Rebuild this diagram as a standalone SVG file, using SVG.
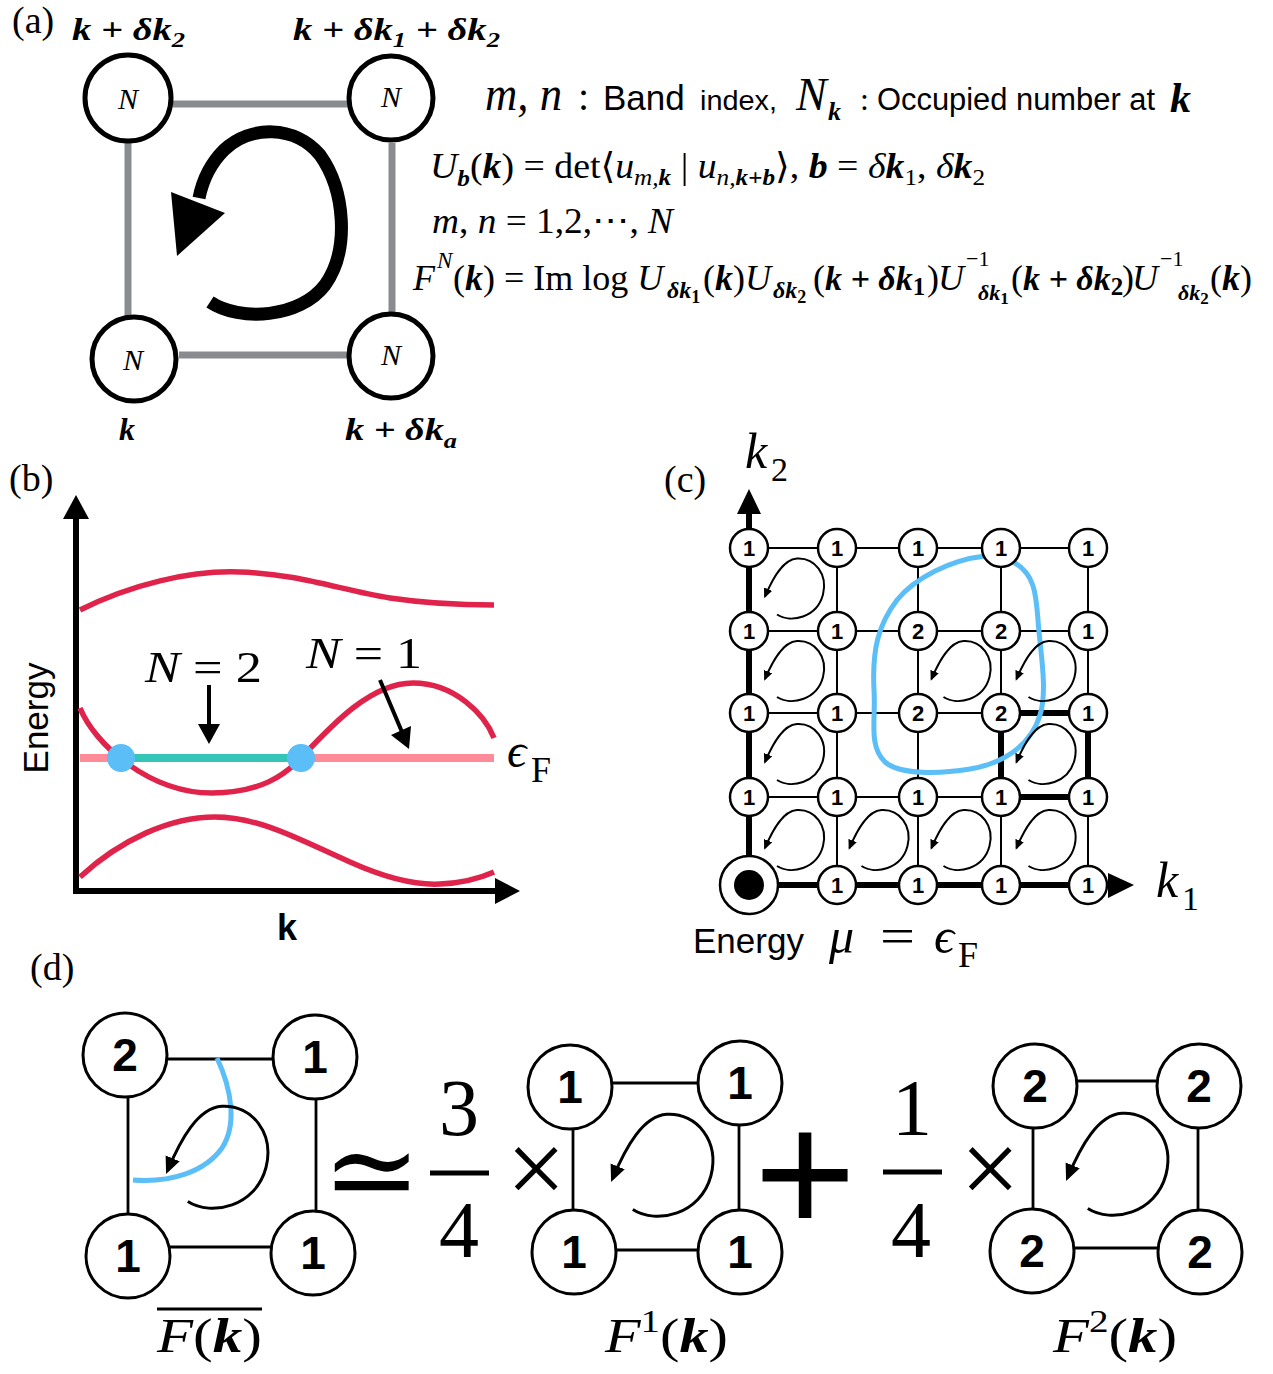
<svg xmlns="http://www.w3.org/2000/svg" xmlns:xlink="http://www.w3.org/1999/xlink" width="1273" height="1374" viewBox="0 0 1273 1374">
<style>
.serif{font-family:"Liberation Serif","DejaVu Serif",serif}
.sans{font-family:"Liberation Sans","DejaVu Sans",sans-serif}
.it{font-style:italic}
.bi{font-weight:bold;font-style:italic}
.b{font-weight:bold}
.nodeA{fill:#fff;stroke:#000;stroke-width:5}
.nodeC{fill:#fff;stroke:#000;stroke-width:2.5}
.nodeD{fill:#fff;stroke:#000;stroke-width:3}
.gray{stroke:#898b8e;stroke-width:7;fill:none}
.thin{stroke:#000;stroke-width:2;fill:none}
.thick{stroke:#000;stroke-width:6;fill:none}
.red{stroke:#e0234b;stroke-width:5.5;fill:none}
.numC{font-family:"Liberation Sans",sans-serif;font-weight:bold;font-size:22px;text-anchor:middle}
.numD{font-family:"Liberation Sans",sans-serif;font-weight:bold;font-size:46px;text-anchor:middle}
.lineD{stroke:#000;stroke-width:2.8;fill:none}
</style>
<defs>
<marker id="ah" viewBox="0 0 10 10" refX="8" refY="5" markerWidth="10" markerHeight="10" markerUnits="userSpaceOnUse" orient="auto">
<path d="M0,0.5 L10,5 L0,9.5 z" fill="#000"/>
</marker>
<path id="curl" d="M -16,25 C -2,34 24,28 30,5 C 35,-15 22,-32 4,-31 C -10,-30 -20,-12 -28,7" fill="none" stroke="#000" marker-end="url(#ah)"/>
</defs>

<!-- ============ Panel (a) ============ -->
<text class="serif" x="12" y="33" font-size="38">(a)</text>
<g id="a-edges">
<line class="gray" x1="173" y1="104" x2="347" y2="104"/>
<line class="gray" x1="128" y1="143" x2="128" y2="316"/>
<line class="gray" x1="392" y1="143" x2="392" y2="312"/>
<line class="gray" x1="179" y1="355" x2="347" y2="355"/>
</g>
<g id="a-loop">
<path d="M 210,302 C 240,322 300,318 325,285 C 350,250 345,190 320,155 C 295,125 250,125 224,150 C 212,162 203,178 199,198" fill="none" stroke="#000" stroke-width="13"/>
<polygon points="171,192 225,213 177,256" fill="#000"/>
</g>
<g id="a-node-tl"><circle class="nodeA" cx="128" cy="98" r="43"/><text class="serif it" x="128" y="109" font-size="30" text-anchor="middle">N</text></g>
<g id="a-node-tr"><circle class="nodeA" cx="391" cy="98" r="42"/><text class="serif it" x="391" y="107" font-size="30" text-anchor="middle">N</text></g>
<g id="a-node-bl"><circle class="nodeA" cx="134" cy="359" r="42"/><text class="serif it" x="133" y="370" font-size="30" text-anchor="middle">N</text></g>
<g id="a-node-br"><circle class="nodeA" cx="391" cy="356" r="42"/><text class="serif it" x="391" y="365" font-size="30" text-anchor="middle">N</text></g>
<text class="serif bi" x="72" y="40" font-size="32" textLength="113" lengthAdjust="spacingAndGlyphs">k + δk<tspan dy="7" font-size="22">2</tspan></text>
<text class="serif bi" x="293" y="40" font-size="32" textLength="207" lengthAdjust="spacingAndGlyphs">k + δk<tspan dy="7" font-size="22">1</tspan><tspan dy="-7"> + δk</tspan><tspan dy="7" font-size="22">2</tspan></text>
<text class="serif bi" x="119" y="440" font-size="32">k</text>
<text class="serif bi" x="345" y="440" font-size="32" textLength="112" lengthAdjust="spacingAndGlyphs">k + δk<tspan dy="8" font-size="22">a</tspan></text>

<!-- formulas -->
<g id="formulas">
<text class="serif it" x="485" y="110" font-size="48" textLength="77" lengthAdjust="spacingAndGlyphs">m, n</text>
<text class="serif" x="578" y="110" font-size="40">:</text>
<text class="sans" x="603" y="110" font-size="35">Band</text>
<text class="sans" x="700" y="110" font-size="27" textLength="77" lengthAdjust="spacingAndGlyphs">index,</text>
<text class="serif it" x="796" y="110" font-size="46">N</text>
<text class="serif bi" x="828" y="120" font-size="26">k</text>
<text class="serif" x="860" y="110" font-size="32">:</text>
<text class="sans" x="877" y="110" font-size="31" textLength="278" lengthAdjust="spacingAndGlyphs">Occupied number at</text>
<text class="serif bi" x="1170" y="112" font-size="42">k</text>

<text class="serif" x="430" y="178" font-size="36" textLength="555" lengthAdjust="spacingAndGlyphs"><tspan class="it">U</tspan><tspan class="bi" font-size="24" dy="8">b</tspan><tspan dy="-8">(</tspan><tspan class="bi">k</tspan>) = det⟨<tspan class="it">u</tspan><tspan class="it" font-size="24" dy="7">m,</tspan><tspan class="bi" font-size="24">k</tspan><tspan dy="-7"> | </tspan><tspan class="it">u</tspan><tspan class="it" font-size="24" dy="7">n,</tspan><tspan class="bi" font-size="24">k+b</tspan><tspan dy="-7">⟩, </tspan><tspan class="bi">b</tspan> = <tspan class="it">δ</tspan><tspan class="bi">k</tspan><tspan font-size="24" dy="7">1</tspan><tspan dy="-7">, </tspan><tspan class="it">δ</tspan><tspan class="bi">k</tspan><tspan font-size="24" dy="7">2</tspan></text>

<text class="serif" x="432" y="233" font-size="36" textLength="241" lengthAdjust="spacingAndGlyphs"><tspan class="it">m</tspan>, <tspan class="it">n</tspan> = 1,2,⋯, <tspan class="it">N</tspan></text>

<text class="serif" font-size="36"><tspan class="it" x="413" y="290">F</tspan><tspan class="it" x="437" y="268" font-size="23">N</tspan><tspan x="453" y="290">(</tspan><tspan class="bi">k</tspan><tspan>) = Im log </tspan><tspan class="it">U</tspan><tspan class="bi" x="667" y="298" font-size="24">δk</tspan><tspan class="b" y="303" font-size="18">1</tspan><tspan x="703" y="290">(</tspan><tspan class="bi">k</tspan><tspan>)</tspan><tspan class="it">U</tspan><tspan class="bi" x="773" y="298" font-size="24">δk</tspan><tspan class="b" y="303" font-size="18">2</tspan><tspan x="813" y="290">(</tspan><tspan class="bi" font-size="34">k + δk</tspan><tspan class="b" y="295" font-size="25">1</tspan><tspan x="927" y="290">)</tspan><tspan class="it" x="938">U</tspan><tspan x="966" y="266" font-size="22">−1</tspan><tspan class="bi" x="978" y="300" font-size="22">δk</tspan><tspan class="b" y="304" font-size="17">1</tspan><tspan x="1011" y="290">(</tspan><tspan class="bi" font-size="34">k + δk</tspan><tspan class="b" y="295" font-size="25">2</tspan><tspan x="1122" y="290">)</tspan><tspan class="it" x="1132">U</tspan><tspan x="1160" y="266" font-size="22">−1</tspan><tspan class="bi" x="1178" y="300" font-size="22">δk</tspan><tspan class="b" y="304" font-size="17">2</tspan><tspan x="1210" y="290">(</tspan><tspan class="bi">k</tspan><tspan>)</tspan></text>
</g>

<!-- ============ Panel (b) ============ -->
<text class="serif" x="9" y="491" font-size="38">(b)</text>
<g id="b-axes">
<line x1="76" y1="894" x2="76" y2="515" stroke="#000" stroke-width="6"/>
<polygon points="76,495 63,519 89,519" fill="#000"/>
<line x1="73" y1="891" x2="498" y2="891" stroke="#000" stroke-width="6"/>
<polygon points="520,891 495,878 495,904" fill="#000"/>
</g>
<g id="b-bands">
<path class="red" d="M 80,610 C 130,585 190,570 240,572 C 300,574 340,590 390,598 C 430,604 460,605 494,605"/>
<line x1="80" y1="758" x2="494" y2="758" stroke="#ff8a98" stroke-width="8"/>
<path class="red" d="M 80,708 C 95,745 150,793 212,793 C 260,793 285,775 301,758 C 330,727 370,683 413,683 C 455,683 485,715 494,738"/>
<path class="red" d="M 80,877 C 120,840 170,817 215,817 C 260,817 300,840 350,862 C 390,880 420,885 440,884 C 465,883 485,876 494,872"/>
<line x1="122" y1="758" x2="301" y2="758" stroke="#35c5b7" stroke-width="8"/>
<circle cx="121" cy="758" r="14" fill="#5bbef7"/>
<circle cx="301" cy="758" r="14" fill="#5bbef7"/>
</g>
<g id="b-arrows">
<line x1="209" y1="685" x2="209" y2="726" stroke="#000" stroke-width="4"/>
<polygon points="198,724 220,724 209,744" fill="#000"/>
<line x1="380" y1="680" x2="402" y2="732" stroke="#000" stroke-width="4"/>
<polygon points="411,726 391,735 409,749" fill="#000"/>
</g>
<text class="serif" x="145" y="682" font-size="45" textLength="117" lengthAdjust="spacingAndGlyphs"><tspan class="it">N</tspan> = 2</text>
<text class="serif" x="306" y="668" font-size="45" textLength="116" lengthAdjust="spacingAndGlyphs"><tspan class="it">N</tspan> = 1</text>
<text class="serif it" x="507" y="767" font-size="48">ϵ</text>
<text class="serif" x="531" y="782" font-size="36">F</text>
<text class="sans" transform="translate(48,718) rotate(-90)" font-size="35" text-anchor="middle">Energy</text>
<text class="sans b" x="287" y="940" font-size="36" text-anchor="middle">k</text>

<!-- ============ Panel (c) ============ -->
<text class="serif" x="664" y="492" font-size="38">(c)</text>
<text class="serif it" x="745" y="468" font-size="50">k</text>
<text class="serif" x="771" y="481" font-size="34">2</text>
<text class="serif it" x="1156" y="897" font-size="50">k</text>
<text class="serif" x="1182" y="910" font-size="34">1</text>
<g id="c-grid">
<line class="thin" x1="749" y1="548" x2="1088" y2="548"/>
<line class="thin" x1="749" y1="631" x2="1088" y2="631"/>
<line class="thin" x1="749" y1="713" x2="1088" y2="713"/>
<line class="thin" x1="749" y1="797" x2="1088" y2="797"/>
<line class="thin" x1="837" y1="548" x2="837" y2="885"/>
<line class="thin" x1="918" y1="548" x2="918" y2="885"/>
<line class="thin" x1="1001" y1="548" x2="1001" y2="885"/>
<line class="thin" x1="1088" y1="548" x2="1088" y2="885"/>
<line class="thick" x1="749" y1="885" x2="749" y2="510"/>
<polygon points="749,489 737,514 761,514" fill="#000"/>
<line class="thick" x1="749" y1="885" x2="1110" y2="885"/>
<polygon points="1134,885 1108,873 1108,898" fill="#000"/>
<line class="thick" x1="1001" y1="713" x2="1088" y2="713"/>
<line class="thick" x1="1001" y1="797" x2="1088" y2="797"/>
<line class="thick" x1="1001" y1="713" x2="1001" y2="797"/>
<line class="thick" x1="1088" y1="713" x2="1088" y2="797"/>
</g>
<path id="c-fermi" d="M 985,556 C 950,560 915,578 897,600 C 878,625 872,650 874,690 C 876,720 868,745 885,762 C 900,775 940,774 970,769 C 1000,764 1030,748 1040,715 C 1048,690 1040,650 1038,620 C 1036,595 1035,575 1015,563 C 1005,557 995,556 985,556 Z" fill="none" stroke="#5bbef7" stroke-width="5"/>
<g id="c-curls" stroke-width="2">
<use xlink:href="#curl" x="793" y="589.5"/>
<use xlink:href="#curl" x="793" y="672"/>
<use xlink:href="#curl" x="959.5" y="672"/>
<use xlink:href="#curl" x="1044.5" y="672"/>
<use xlink:href="#curl" x="793" y="755"/>
<use xlink:href="#curl" x="1044.5" y="755"/>
<use xlink:href="#curl" x="793" y="841"/>
<use xlink:href="#curl" x="877.5" y="841"/>
<use xlink:href="#curl" x="959.5" y="841"/>
<use xlink:href="#curl" x="1044.5" y="841"/>
</g>
<g id="c-nodes">
<g id="c-n00"><circle class="nodeC" cx="749" cy="548" r="19"/><text class="numC" x="749" y="556">1</text></g>
<g id="c-n10"><circle class="nodeC" cx="837" cy="548" r="19"/><text class="numC" x="837" y="556">1</text></g>
<g id="c-n20"><circle class="nodeC" cx="918" cy="548" r="19"/><text class="numC" x="918" y="556">1</text></g>
<g id="c-n30"><circle class="nodeC" cx="1001" cy="548" r="19"/><text class="numC" x="1001" y="556">1</text></g>
<g id="c-n40"><circle class="nodeC" cx="1088" cy="548" r="19"/><text class="numC" x="1088" y="556">1</text></g>
<g id="c-n01"><circle class="nodeC" cx="749" cy="631" r="19"/><text class="numC" x="749" y="639">1</text></g>
<g id="c-n11"><circle class="nodeC" cx="837" cy="631" r="19"/><text class="numC" x="837" y="639">1</text></g>
<g id="c-n21"><circle class="nodeC" cx="918" cy="631" r="19"/><text class="numC" x="918" y="639">2</text></g>
<g id="c-n31"><circle class="nodeC" cx="1001" cy="631" r="19"/><text class="numC" x="1001" y="639">2</text></g>
<g id="c-n41"><circle class="nodeC" cx="1088" cy="631" r="19"/><text class="numC" x="1088" y="639">1</text></g>
<g id="c-n02"><circle class="nodeC" cx="749" cy="713" r="19"/><text class="numC" x="749" y="721">1</text></g>
<g id="c-n12"><circle class="nodeC" cx="837" cy="713" r="19"/><text class="numC" x="837" y="721">1</text></g>
<g id="c-n22"><circle class="nodeC" cx="918" cy="713" r="19"/><text class="numC" x="918" y="721">2</text></g>
<g id="c-n32"><circle class="nodeC" cx="1001" cy="713" r="19"/><text class="numC" x="1001" y="721">2</text></g>
<g id="c-n42"><circle class="nodeC" cx="1088" cy="713" r="19"/><text class="numC" x="1088" y="721">1</text></g>
<g id="c-n03"><circle class="nodeC" cx="749" cy="797" r="19"/><text class="numC" x="749" y="805">1</text></g>
<g id="c-n13"><circle class="nodeC" cx="837" cy="797" r="19"/><text class="numC" x="837" y="805">1</text></g>
<g id="c-n23"><circle class="nodeC" cx="918" cy="797" r="19"/><text class="numC" x="918" y="805">1</text></g>
<g id="c-n33"><circle class="nodeC" cx="1001" cy="797" r="19"/><text class="numC" x="1001" y="805">1</text></g>
<g id="c-n43"><circle class="nodeC" cx="1088" cy="797" r="19"/><text class="numC" x="1088" y="805">1</text></g>
<g id="c-origin"><circle class="nodeC" cx="749" cy="885" r="29"/><circle cx="749" cy="885" r="15" fill="#000"/></g>
<g id="c-n14"><circle class="nodeC" cx="837" cy="885" r="19"/><text class="numC" x="837" y="893">1</text></g>
<g id="c-n24"><circle class="nodeC" cx="918" cy="885" r="19"/><text class="numC" x="918" y="893">1</text></g>
<g id="c-n34"><circle class="nodeC" cx="1001" cy="885" r="19"/><text class="numC" x="1001" y="893">1</text></g>
<g id="c-n44"><circle class="nodeC" cx="1088" cy="885" r="19"/><text class="numC" x="1088" y="893">1</text></g>
</g>
<text class="sans" x="693" y="953" font-size="35">Energy</text>
<text class="serif it" x="829" y="953" font-size="50">μ</text>
<text class="serif" x="880" y="953" font-size="50" textLength="35" lengthAdjust="spacingAndGlyphs">=</text>
<text class="serif it" x="934" y="953" font-size="50">ϵ</text>
<text class="serif" x="958" y="967" font-size="36">F</text>

<!-- ============ Panel (d) ============ -->
<text class="serif" x="30" y="980" font-size="38">(d)</text>
<g id="d-left">
<line class="lineD" x1="167" y1="1059" x2="273" y2="1059"/>
<line class="lineD" x1="128" y1="1097" x2="128" y2="1215"/>
<line class="lineD" x1="316" y1="1099" x2="316" y2="1211"/>
<line class="lineD" x1="170" y1="1247" x2="271" y2="1247"/>
<path d="M 217,1058 C 232,1090 237,1125 222,1148 C 205,1172 170,1183 133,1180" fill="none" stroke="#5bbef7" stroke-width="5"/>
<g transform="translate(215,1159) scale(1.7)" stroke-width="1.75"><use xlink:href="#curl"/></g>
<g id="d-l-tl"><circle class="nodeD" cx="125" cy="1055" r="42"/><text class="numD" x="125" y="1071">2</text></g>
<g id="d-l-tr"><circle class="nodeD" cx="315" cy="1057" r="42"/><text class="numD" x="315" y="1073">1</text></g>
<g id="d-l-bl"><circle class="nodeD" cx="128" cy="1256" r="42"/><text class="numD" x="128" y="1272">1</text></g>
<g id="d-l-br"><circle class="nodeD" cx="313" cy="1253" r="42"/><text class="numD" x="313" y="1269">1</text></g>
<line x1="157" y1="1309" x2="262" y2="1309" stroke="#000" stroke-width="3"/>
<text class="serif" x="157" y="1352" font-size="48" textLength="105" lengthAdjust="spacingAndGlyphs"><tspan class="it">F</tspan>(<tspan class="bi">k</tspan>)</text>
</g>

<text x="372" y="1211" font-family="DejaVu Serif, serif" font-size="118" text-anchor="middle">≃</text>
<g id="frac34">
<text class="serif" x="459" y="1135" font-size="80" text-anchor="middle">3</text>
<line x1="430" y1="1173" x2="489" y2="1173" stroke="#000" stroke-width="5"/>
<text class="serif" x="459" y="1257" font-size="80" text-anchor="middle">4</text>
</g>
<text class="serif" x="536" y="1204" font-size="105" text-anchor="middle">×</text>

<g id="d-mid">
<line class="lineD" x1="612" y1="1083" x2="698" y2="1083"/>
<line class="lineD" x1="573" y1="1129" x2="573" y2="1210"/>
<line class="lineD" x1="739" y1="1125" x2="739" y2="1210"/>
<line class="lineD" x1="616" y1="1250" x2="698" y2="1250"/>
<g transform="translate(660,1167) scale(1.7)" stroke-width="1.75"><use xlink:href="#curl"/></g>
<g id="d-m-tl"><circle class="nodeD" cx="570" cy="1087" r="42"/><text class="numD" x="570" y="1103">1</text></g>
<g id="d-m-tr"><circle class="nodeD" cx="740" cy="1083" r="42"/><text class="numD" x="740" y="1099">1</text></g>
<g id="d-m-bl"><circle class="nodeD" cx="574" cy="1252" r="42"/><text class="numD" x="574" y="1268">1</text></g>
<g id="d-m-br"><circle class="nodeD" cx="740" cy="1252" r="42"/><text class="numD" x="740" y="1268">1</text></g>
<text class="serif" x="605" y="1352" font-size="48" textLength="123" lengthAdjust="spacingAndGlyphs"><tspan class="it">F</tspan><tspan font-size="32" dy="-20">1</tspan><tspan dy="20">(</tspan><tspan class="bi">k</tspan>)</text>
</g>

<text class="sans" x="805" y="1233" font-size="175" text-anchor="middle">+</text>
<g id="frac14">
<text class="serif" x="912" y="1135" font-size="80" text-anchor="middle">1</text>
<line x1="883" y1="1172" x2="942" y2="1172" stroke="#000" stroke-width="5"/>
<text class="serif" x="911" y="1257" font-size="80" text-anchor="middle">4</text>
</g>
<text class="serif" x="990" y="1204" font-size="105" text-anchor="middle">×</text>

<g id="d-right">
<line class="lineD" x1="1077" y1="1081" x2="1156" y2="1081"/>
<line class="lineD" x1="1033" y1="1129" x2="1033" y2="1208"/>
<line class="lineD" x1="1198" y1="1129" x2="1198" y2="1210"/>
<line class="lineD" x1="1074" y1="1248" x2="1158" y2="1248"/>
<g transform="translate(1115,1166) scale(1.7)" stroke-width="1.75"><use xlink:href="#curl"/></g>
<g id="d-r-tl"><circle class="nodeD" cx="1035" cy="1086" r="42"/><text class="numD" x="1035" y="1102">2</text></g>
<g id="d-r-tr"><circle class="nodeD" cx="1199" cy="1086" r="42"/><text class="numD" x="1199" y="1102">2</text></g>
<g id="d-r-bl"><circle class="nodeD" cx="1032" cy="1251" r="42"/><text class="numD" x="1032" y="1267">2</text></g>
<g id="d-r-br"><circle class="nodeD" cx="1200" cy="1252" r="42"/><text class="numD" x="1200" y="1268">2</text></g>
<text class="serif" x="1053" y="1352" font-size="48" textLength="124" lengthAdjust="spacingAndGlyphs"><tspan class="it">F</tspan><tspan font-size="32" dy="-20">2</tspan><tspan dy="20">(</tspan><tspan class="bi">k</tspan>)</text>
</g>
</svg>
